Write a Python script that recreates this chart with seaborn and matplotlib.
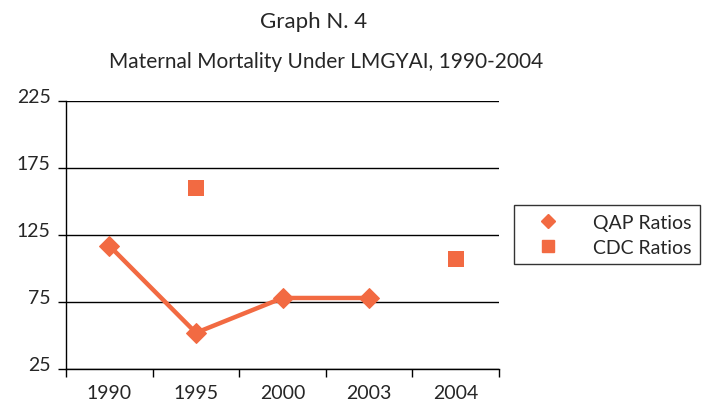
import matplotlib
matplotlib.use("Agg")
import matplotlib.pyplot as plt
from matplotlib.lines import Line2D
from matplotlib.ticker import FixedLocator
import matplotlib.transforms as mtransforms
import numpy as np
import pandas as pd
import seaborn as sns

# data
years = ["1990", "1995", "2000", "2003", "2004"]
qap_ratios = [117, 52, 78, 78, np.nan]
cdc_ratios = [np.nan, 160, np.nan, np.nan, 107]
y_ticks = [25, 75, 125, 175, 225]

orange = "#F26A42"

sns.set_style("white")
plt.rcParams["font.family"] = ["Lato", "DejaVu Sans"]

df = pd.DataFrame({"pos": np.arange(len(years)), "year": years,
                   "qap": qap_ratios, "cdc": cdc_ratios})

fig = plt.figure(figsize=(7.12, 4.02), dpi=100)
ax = fig.add_axes([66 / 712, 32 / 402, 433 / 712, 268 / 402])

sns.lineplot(data=df.dropna(subset=["qap"]), x="pos", y="qap", ax=ax,
             color=orange, lw=3.2, marker="D", markersize=10,
             markeredgecolor=orange, legend=False)
sns.scatterplot(data=df.dropna(subset=["cdc"]), x="pos", y="cdc", ax=ax,
                color=orange, marker="s", s=120, edgecolor=orange,
                linewidth=0, legend=False)

ax.set_xlim(-0.5, len(years) - 0.5)
ax.set_ylim(25, 225)
ax.set_xlabel("")
ax.set_ylabel("")

# y axis: gridlines and labels sitting just above their line
ax.set_yticks(y_ticks)
ax.set_yticklabels([str(v) for v in y_ticks], fontsize=14)
ax.yaxis.grid(True, color="black", lw=1)
ax.tick_params(axis="y", left=True, direction="out", length=6, width=1,
               color="black", pad=5)
offset = mtransforms.ScaledTranslation(0, 0.045, fig.dpi_scale_trans)
for lab in ax.get_yticklabels():
    lab.set_verticalalignment("center")
    lab.set_transform(lab.get_transform() + offset)

# x axis: labels at centres, tick marks between categories
ax.set_xticks(df["pos"])
ax.set_xticklabels(years, fontsize=14)
ax.tick_params(axis="x", which="major", bottom=True, length=0, pad=11)
ax.xaxis.set_minor_locator(FixedLocator(np.arange(-0.5, len(years), 1.0)))
ax.tick_params(axis="x", which="minor", bottom=True, direction="out",
               length=6, width=1, color="black")

for side in ["top", "right"]:
    ax.spines[side].set_visible(False)
for side in ["left", "bottom"]:
    ax.spines[side].set_color("black")
    ax.spines[side].set_linewidth(1)

fig.text(314 / 712, 1 - 22 / 402, "Graph N. 4", ha="center", va="center", fontsize=16)
fig.text(326 / 712, 1 - 62 / 402, "Maternal Mortality Under LMGYAI, 1990-2004",
         ha="center", va="center", fontsize=15)

handles = [
    Line2D([], [], ls="none", marker="D", ms=7, color=orange, label="QAP Ratios"),
    Line2D([], [], ls="none", marker="s", ms=8, color=orange, label="CDC Ratios"),
]
leg = fig.legend(handles=handles, loc="upper left",
                 bbox_to_anchor=(514 / 712, 1 - 206 / 402), fontsize=14,
                 frameon=True, fancybox=False, borderpad=0.45, labelspacing=0.4,
                 handlelength=2.6, handletextpad=1.0, borderaxespad=0)
leg.get_frame().set_edgecolor("black")
leg.get_frame().set_linewidth(1)

fig.savefig("out.png", dpi=100)
